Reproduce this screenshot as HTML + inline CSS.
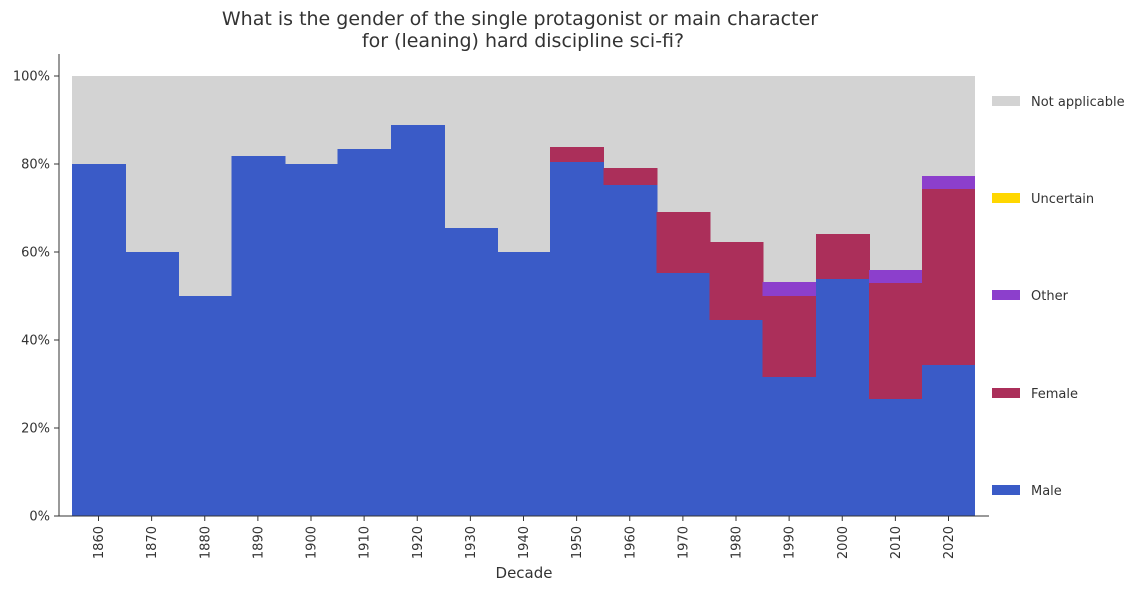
<!DOCTYPE html>
<html><head><meta charset="utf-8"><style>
body{margin:0;background:#fff;font-family:"DejaVu Sans","Liberation Sans",sans-serif;}
svg text{fill:#333;font-family:"DejaVu Sans","Liberation Sans",sans-serif;}
</style></head><body>
<svg id="c" width="1146" height="591" xmlns="http://www.w3.org/2000/svg">
<text x="520" y="25" font-size="19" text-anchor="middle">What is the gender of the single protagonist or main character</text>
<text x="523" y="47" font-size="19" text-anchor="middle">for (leaning) hard discipline sci-fi?</text>
<g id="bars" shape-rendering="crispEdges"></g><g id="axes"></g><g id="legend"></g>
</svg>
<script>
const decades=[1860,1870,1880,1890,1900,1910,1920,1930,1940,1950,1960,1970,1980,1990,2000,2010,2020];
const male=[80,60,50,81.8,80,83.4,88.9,65.5,60,80.5,75.2,55.2,44.5,31.6,53.9,26.6,34.3];
const female=[0,0,0,0,0,0,0,0,0,3.4,3.9,13.9,17.8,18.4,10.2,26.4,40];
const other=[0,0,0,0,0,0,0,0,0,0,0,0,0,3.2,0,2.9,3];
const uncertain=[0,0,0,0,0,0,0,0,0,0,0,0,0,0,0,0,0];
const yTicks=[0,20,40,60,80,100];
const series=[["Male",male,"#3a5bc7"],["Female",female,"#ab2f5a"],["Other",other,"#8c3fcc"],["Uncertain",uncertain,"#ffd700"]];
const NS="http://www.w3.org/2000/svg";
const y=v=>516-v*4.4;
const x0=i=>72+i*53.125;
const bw=54;
function mk(t,a,p){const e=document.createElementNS(NS,t);for(const k in a)e.setAttribute(k,a[k]);p.appendChild(e);return e;}
const bars=document.getElementById('bars'),axes=document.getElementById('axes'),leg=document.getElementById('legend');
const bg=mk('rect',{x:72,y:y(100),width:903,height:440,fill:'#d3d3d3'},bars);


decades.forEach((d,i)=>{
  let acc=0;
  const w=(i===decades.length-1)?53:bw;
  series.forEach(([n,vals,col])=>{
    const v=vals[i]; if(v<=0)return;
    const b=mk('rect',{x:x0(i),y:y(acc+v),width:w,height:v*4.4,fill:col},bars);
    
    
    acc+=v;
  });
  const cx=x0(i)+26.5;
  mk('line',{x1:cx,x2:cx,y1:516,y2:521,stroke:'#333'},axes);
  const t=mk('text',{x:cx+4.5,y:526,'font-size':13,'text-anchor':'end',transform:`rotate(-90 ${cx+4.5} 526)`},axes);
  t.textContent=d;
  
  
});
mk('line',{x1:59,x2:59,y1:54,y2:516,stroke:'#333'},axes);
mk('line',{x1:59,x2:989,y1:516,y2:516,stroke:'#333'},axes);
yTicks.forEach(v=>{
  mk('line',{x1:54,x2:59,y1:y(v),y2:y(v),stroke:'#333'},axes);
  const t=mk('text',{x:50,y:y(v)+4.5,'font-size':13,'text-anchor':'end'},axes);
  t.textContent=v+'%';
  
  
});
const xt=mk('text',{x:524,y:578,'font-size':15,'text-anchor':'middle'},axes);
xt.textContent='Decade';


const legItems=[["Not applicable","#d3d3d3",101],["Uncertain","#ffd700",198],["Other","#8c3fcc",295],["Female","#ab2f5a",393],["Male","#3a5bc7",490]];
legItems.forEach(([n,c,yy])=>{
  const g=mk('g',{},leg);
  
  
  mk('rect',{x:992,y:yy-5,width:28,height:10,fill:c},g);
  const t=mk('text',{x:1031,y:yy+5,'font-size':13},g);
  t.textContent=n;
});
</script>
</body></html>
